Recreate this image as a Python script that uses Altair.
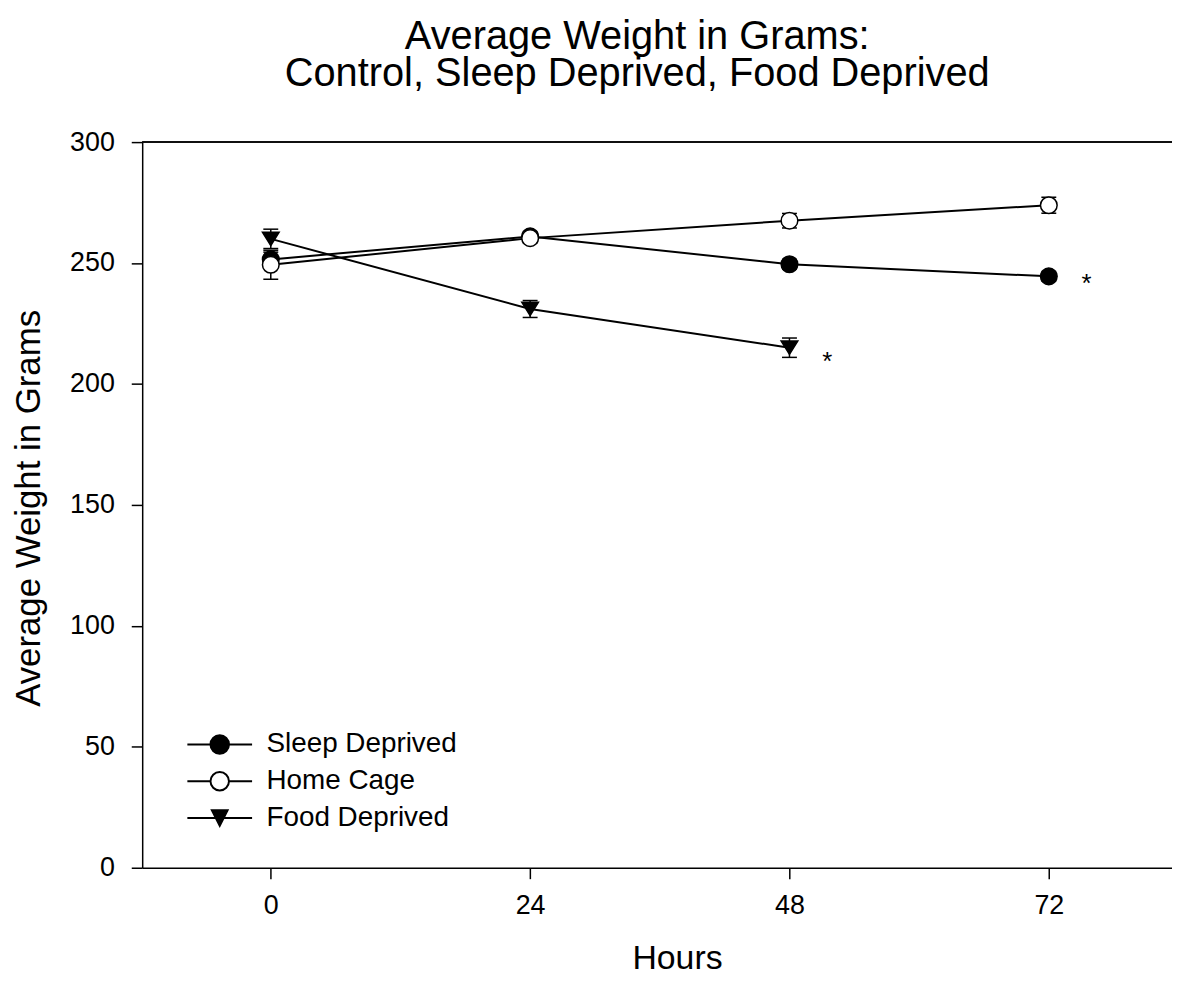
import altair as alt
import pandas as pd

FONT = "Liberation Sans"

series_names = ["Sleep Deprived", "Home Cage", "Food Deprived"]

sleep_hours = [0, 24, 48, 72]
sleep_mean = [251.5, 261.0, 249.5, 244.5]
sleep_err = [3.0, 2.0, 2.0, 2.0]

home_hours = [0, 24, 48, 72]
home_mean = [249.3, 260.3, 267.5, 273.9]
home_err = [6.0, 2.0, 3.0, 3.3]

food_hours = [0, 24, 48]
food_mean = [260.0, 231.0, 215.0]
food_err = [4.0, 3.5, 4.0]

star_hours = [75.5, 51.5]
star_values = [244.0, 212.0]

x_ticks = [0, 24, 48, 72]
y_ticks = [0, 50, 100, 150, 200, 250, 300]

point_shapes = ["circle", "circle", "M-1,-0.8H1L0,0.8Z"]
point_fills = ["black", "white", "black"]
legend_shapes = [
    "M-3.5,0H-1M1,0H3.5M-1,0A1,1,0,1,1,1,0A1,1,0,1,1,-1,0Z",
    "M-3.5,0H-1M1,0H3.5M-1,0A1,1,0,1,1,1,0A1,1,0,1,1,-1,0Z",
    "M-3.5,0H3.5M-0.85,-0.85H0.85L0,0.85Z",
]
legend_strokes = ["black", "black", "black"]

rows = []
for name, hs, ms, es in [
    (series_names[0], sleep_hours, sleep_mean, sleep_err),
    (series_names[1], home_hours, home_mean, home_err),
    (series_names[2], food_hours, food_mean, food_err),
]:
    for h, m, e in zip(hs, ms, es):
        rows.append({"series": name, "hours": h, "mean": m, "lo": m - e, "hi": m + e})
df = pd.DataFrame(rows)

caps = []
for r in rows:
    caps.append({"series": r["series"], "hours": r["hours"], "cap": r["lo"]})
    caps.append({"series": r["series"], "hours": r["hours"], "cap": r["hi"]})
caps_df = pd.DataFrame(caps)

stars_df = pd.DataFrame({"hours": star_hours, "value": star_values})

xscale = alt.Scale(domain=[-11.9, 83.4], nice=False, zero=False)
yscale = alt.Scale(domain=[0, 300], nice=False, zero=False)

xaxis = alt.Axis(
    values=x_ticks, title="Hours", grid=False,
    domainColor="black", domainWidth=1.5, tickColor="black", tickWidth=1.5,
    tickSize=11, labelPadding=14, labelFont=FONT, labelFontSize=27, labelColor="black",
    labelFlush=False, labelOverlap=False,
    titleFont=FONT, titleFontSize=34, titleFontWeight="normal", titleColor="black",
    titleX=538, titleY=101, titleBaseline="alphabetic", titleAlign="center",
)
yaxis = alt.Axis(
    values=y_ticks, title="Average Weight in Grams", grid=False,
    domainColor="black", domainWidth=1.5, tickColor="black", tickWidth=1.5,
    tickSize=11, labelPadding=17, labelFont=FONT, labelFontSize=27, labelColor="black",
    labelFlush=False, labelOverlap=False,
    titleFont=FONT, titleFontSize=35, titleFontWeight="normal", titleColor="black",
    titleX=-103, titleY=368, titleAngle=270, titleBaseline="alphabetic", titleAlign="center",
)

X = alt.X("hours:Q", scale=xscale, axis=xaxis)

base = alt.Chart(df)

lines = base.mark_line(color="black", strokeWidth=2).encode(
    x=X, y=alt.Y("mean:Q", scale=yscale, axis=yaxis), detail="series:N"
)

err_rules = base.mark_rule(color="black", strokeWidth=1.5).encode(
    x=X, y=alt.Y("lo:Q", scale=yscale, axis=yaxis), y2="hi:Q"
)

err_caps = alt.Chart(caps_df).mark_point(
    shape="M-1,0H1", size=225, strokeWidth=1.5, color="black", filled=False, opacity=1
).encode(x=X, y=alt.Y("cap:Q", scale=yscale, axis=yaxis))

points = base.mark_point(
    filled=True, stroke="black", strokeWidth=1.5, size=280, opacity=1
).encode(
    x=X,
    y=alt.Y("mean:Q", scale=yscale, axis=yaxis),
    fill=alt.Fill("series:N", scale=alt.Scale(domain=series_names, range=point_fills), legend=None),
    shape=alt.Shape("series:N", scale=alt.Scale(domain=series_names, range=point_shapes), legend=None),
)

leg = alt.Legend(
    title=None, orient="none", legendX=64, legendY=592, padding=0,
    labelFont=FONT, labelFontSize=28, labelColor="black", labelOffset=33, labelLimit=0,
    rowPadding=9, symbolSize=346, symbolStrokeWidth=2, symbolOpacity=1,
)

legend_layer = base.transform_filter("datum.hours < -1000").mark_point(
    filled=True, strokeWidth=2, size=346, opacity=1
).encode(
    x=X,
    y=alt.Y("mean:Q", scale=yscale, axis=yaxis),
    fill=alt.Fill("series:N", scale=alt.Scale(domain=series_names, range=point_fills), legend=leg),
    shape=alt.Shape("series:N", scale=alt.Scale(domain=series_names, range=legend_shapes), legend=leg),
    stroke=alt.Stroke("series:N", scale=alt.Scale(domain=series_names, range=legend_strokes), legend=leg),
)

stars = alt.Chart(stars_df).mark_text(
    text="*", font=FONT, fontSize=26, color="black", baseline="alphabetic", align="center", dy=15
).encode(x=X, y=alt.Y("value:Q", scale=yscale, axis=yaxis))

top_rule = alt.Chart(stars_df).mark_rule(color="black", strokeWidth=1.5).encode(y=alt.datum(300))

chart = alt.layer(
    top_rule, lines, err_rules, err_caps, points, legend_layer, stars
).resolve_scale(
    shape="independent", fill="independent", stroke="independent"
).properties(
    width=1036,
    height=730,
    title=alt.TitleParams(
        text=["Average Weight in Grams:", "Control, Sleep Deprived, Food Deprived"],
        font=FONT, fontSize=40, fontWeight="normal", color="black",
        lineHeight=38, anchor="middle", dx=-20, offset=34,
    ),
    autosize=alt.AutoSizeParams(type="none"),
    padding={"left": 135, "top": 132, "right": 0, "bottom": 105},
).configure_view(stroke=None)

chart.save("out.html", embed_options={"renderer": "svg", "actions": False})
